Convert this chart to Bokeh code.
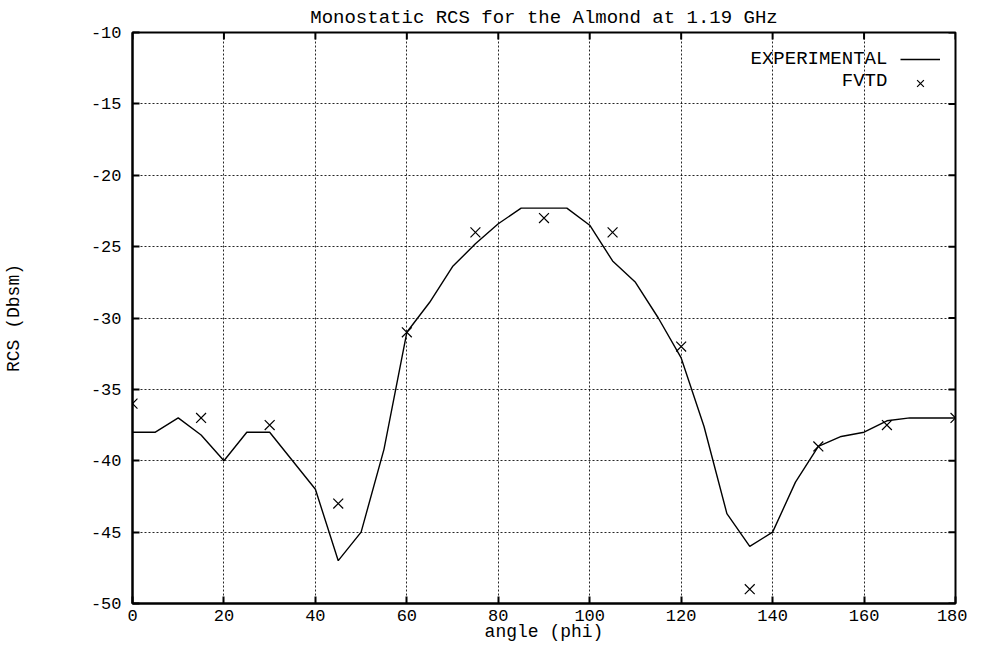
import math
from bokeh.plotting import figure
from bokeh.models import Range1d, Legend, LegendItem, Label, PrintfTickFormatter
from bokeh.core.properties import value
from bokeh.embed import file_html
from bokeh.resources import INLINE

# ---- data ----
exp_angle = [0, 5, 10, 15, 20, 25, 30, 35, 40, 45, 50, 55, 60, 65, 70, 75, 80, 85, 90,
             95, 100, 105, 110, 115, 120, 125, 130, 135, 140, 145, 150, 155, 160, 165,
             170, 175, 180]
exp_rcs = [-38.0, -38.0, -37.0, -38.2, -40.0, -38.0, -38.0, -40.0, -42.0, -47.0, -45.0,
           -39.2, -31.0, -28.9, -26.4, -24.8, -23.4, -22.3, -22.3, -22.3, -23.5, -26.0,
           -27.5, -30.0, -32.8, -37.6, -43.7, -46.0, -45.0, -41.5, -39.0, -38.3, -38.0,
           -37.2, -37.0, -37.0, -37.0]
fvtd_angle = [0, 15, 30, 45, 60, 75, 90, 105, 120, 135, 150, 165, 180]
fvtd_rcs = [-36.0, -37.0, -37.5, -43.0, -31.0, -24.0, -23.0, -24.0, -32.0, -49.0,
            -39.0, -37.5, -37.0]
x_ticks = [0, 20, 40, 60, 80, 100, 120, 140, 160, 180]
y_ticks = [-50, -45, -40, -35, -30, -25, -20, -15, -10]
x_min, x_max = 0, 180
y_min, y_max = -50, -10
title_text = "Monostatic RCS for the Almond at 1.19 GHz"
x_label = "angle (phi)"
y_label = "RCS (Dbsm)"
legend_labels = ["EXPERIMENTAL", "FVTD"]

FONT = "Liberation Mono"

p = figure(width=967, height=644, x_range=Range1d(x_min, x_max),
           y_range=Range1d(y_min, y_max),
           output_backend="svg", toolbar_location=None, title=title_text,
           min_border_left=125, min_border_right=12, min_border_top=24,
           min_border_bottom=40)

p.title.text_font = FONT
p.title.text_font_size = "19px"
p.title.text_font_style = "normal"
p.title.align = "center"
p.title.standoff = 8
p.title.text_color = "black"

p.outline_line_color = "black"
p.outline_line_width = 2
p.outline_line_alpha = 1

bx = p.below[0]
ly = p.left[0]
for ax in (bx, ly):
    ax.major_tick_in = 7
    ax.major_tick_out = 0
    ax.minor_tick_in = 0
    ax.minor_tick_out = 0
    ax.axis_line_width = 2
    ax.axis_line_color = "black"
    ax.major_tick_line_color = "black"
    ax.major_tick_line_width = 2
    ax.major_label_text_font = FONT
    ax.major_label_text_font_size = "17px"
    ax.major_label_text_color = "black"
    ax.axis_label_text_font = FONT
    ax.axis_label_text_font_size = "18px"
    ax.axis_label_text_font_style = "normal"
    ax.axis_label_text_color = "black"
    ax.formatter = PrintfTickFormatter(format="%d")

bx.ticker = x_ticks
bx.axis_label = x_label
bx.major_label_standoff = 6
bx.axis_label_standoff = -2

ly.ticker = y_ticks
ly.axis_label = y_label
ly.major_label_standoff = 11
ly.axis_label_standoff = 64

for g, t in ((p.xgrid[0], x_ticks), (p.ygrid[0], y_ticks)):
    g.ticker = t
    g.grid_line_color = "black"
    g.grid_line_dash = "2 2"
    g.grid_line_width = 1
    g.grid_line_alpha = 0.85

# mirrored inward tick marks on the top and right frame edges
p.scatter(x_ticks, [y_max] * len(x_ticks), marker="dash", angle=math.pi / 2, size=14,
          line_color="black", line_width=2)
p.scatter([x_max] * len(y_ticks), y_ticks, marker="dash", size=14,
          line_color="black", line_width=2)

r_exp = p.line(exp_angle, exp_rcs, line_color="black", line_width=1.4)
r_fvtd = p.scatter(fvtd_angle, fvtd_rcs, marker="x", size=14, line_color="black",
                   line_width=1.2)

legend = Legend(items=[LegendItem(label=value(""), renderers=[r_exp]),
                       LegendItem(label=value(""), renderers=[r_fvtd])],
                location="top_right", margin=15, padding=0, spacing=0,
                glyph_width=40, glyph_height=24, label_width=0, label_standoff=0,
                label_text_font_size="17px", border_line_alpha=0,
                background_fill_alpha=0)
p.add_layout(legend)

p.add_layout(Label(x=165.1, y=-11.88, text=legend_labels[0], text_align="right",
                   text_baseline="middle", text_font=FONT, text_font_size="19px",
                   text_color="black"))
p.add_layout(Label(x=165.1, y=-13.38, text=legend_labels[1], text_align="right",
                   text_baseline="middle", text_font=FONT, text_font_size="19px",
                   text_color="black"))

open("out.html", "w").write(file_html(p, INLINE))
